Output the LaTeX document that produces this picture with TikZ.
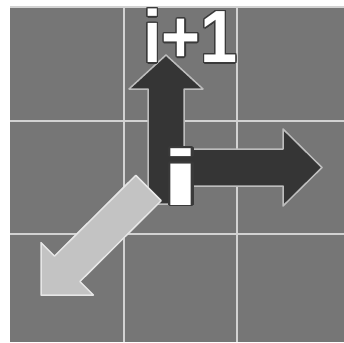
\documentclass[tikz,border=0pt]{standalone}
\usepackage{fontspec}
\setmainfont{Liberation Sans}
\usepackage{contour}
\contourlength{1.4pt}
\contournumber{20}
\definecolor{bggray}{HTML}{767676}
\definecolor{gridgray}{HTML}{D2D2D2}
\definecolor{darkfill}{HTML}{353535}
\definecolor{darkedge}{HTML}{BDBDBD}
\definecolor{lightfill}{HTML}{C3C3C3}
\definecolor{lightedge}{HTML}{E6E6E6}
\definecolor{textedge}{HTML}{3A3A3A}
\tikzset{
    gridline/.style={draw=gridgray, line width=2pt},
    darkarrow/.style={fill=darkfill, draw=darkedge, line width=1.5pt, line join=round},
    lightarrow/.style={fill=lightfill, draw=lightedge, line width=1.5pt, line join=round},
    idxlabel/.style={inner sep=0pt, text=white, font=\fontsize{74}{74}\selectfont\bfseries}
}

\begin{document}
\begin{tikzpicture}[x=1pt,y=-1pt]
\def\cell{113.5}
\useasboundingbox (0,0) rectangle (344,342);
\fill[white] (0,0) rectangle (344,342);
\fill[bggray] (10,7) rectangle (344,342);
\foreach \k in {0,...,2} {
    \draw[gridline] (10,7+\k*\cell) -- (344,7+\k*\cell);
}
\foreach \k in {1,2} {
    \draw[gridline] (10+\k*\cell,7) -- (10+\k*\cell,342);
}
% up arrow
\filldraw[darkarrow] (148,204) -- (148,89) -- (129,89) -- (166,55) -- (203,89) -- (184,89) -- (184,204) -- cycle;
% right arrow, left end left open
\fill[darkfill] (170,149) -- (283,149) -- (283,129) -- (322,167.5) -- (283,206) -- (283,186) -- (170,186) -- cycle;
\draw[darkedge, line width=1.5pt, line join=round] (184,149) -- (283,149) -- (283,129) -- (322,167.5) -- (283,206) -- (283,186) -- (184,186);
% down-left arrow
\filldraw[lightarrow] (135.8,175.3) -- (54.5,256.1) -- (41,242.6) -- (41,295) -- (93.4,295) -- (79.9,281.5) -- (161.2,200.7) -- cycle;
% labels
\node[idxlabel] (next) at (190.5,36.5) {\scalebox{0.9}[1]{\contour{textedge}{i+1}}};
\node[idxlabel, anchor=base west] (cur) at (160.6,205) {\scalebox{2}[1.06]{\contour{textedge}{i}}};
\end{tikzpicture}
\end{document}
